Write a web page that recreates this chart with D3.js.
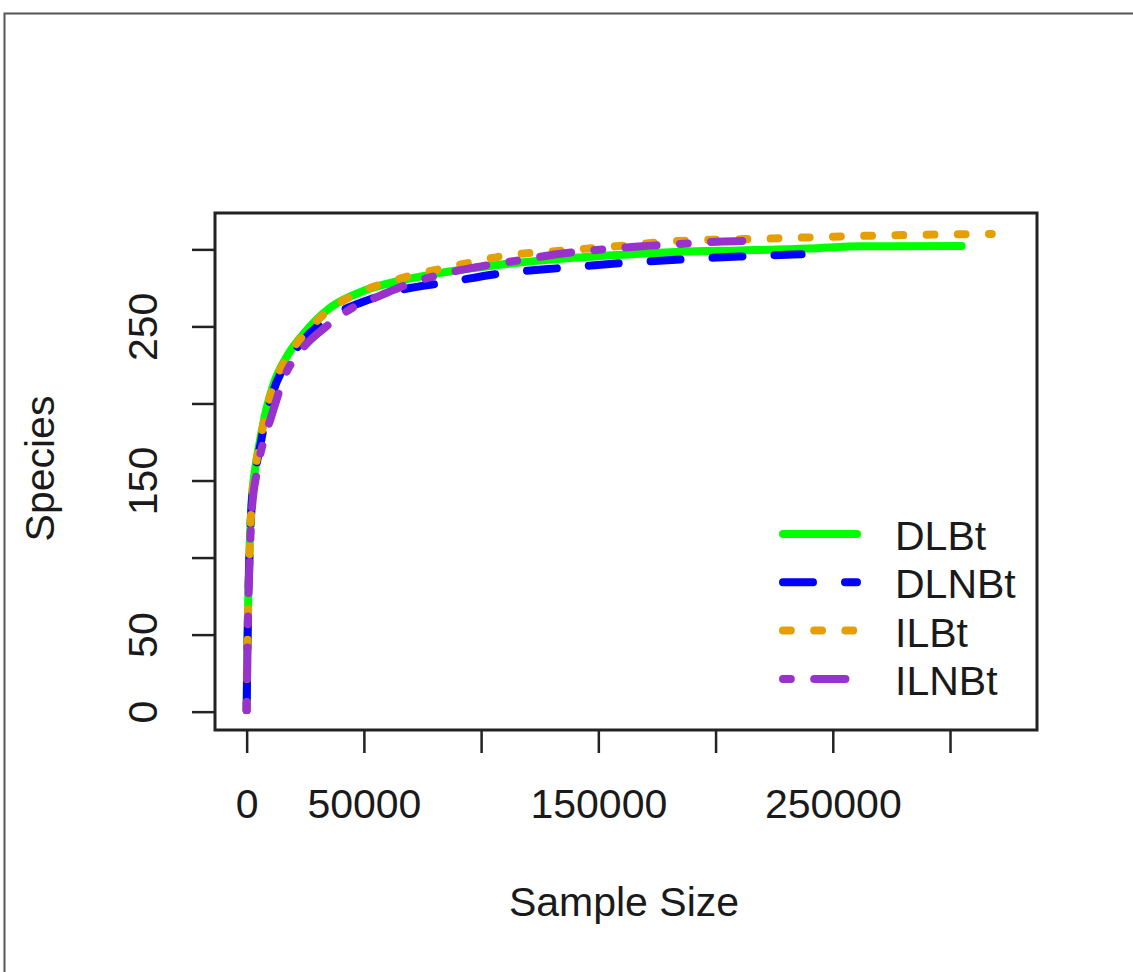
<!DOCTYPE html>
<html>
<head>
<meta charset="utf-8">
<script src="https://cdn.jsdelivr.net/npm/d3@7"></script>
<style>
  html, body { margin: 0; padding: 0; background: #fff; overflow: hidden; }
  text { font-family: "Liberation Sans", Arial, sans-serif; fill: #1a1a1a; }
</style>
</head>
<body>
<div id="chart"></div>
<script>
// rarefaction curves, values
var dlbtSize    = [0, 300, 700, 1400, 2100, 3500, 5700, 8500, 11350, 17750, 24150, 35500, 49700, 65000, 80000, 108000, 135000, 160000, 185000, 210000, 240000, 262000, 305000];
var dlbtSpecies = [1, 40, 75, 113, 136, 156, 176, 197, 212, 232, 245, 262, 273, 279.5, 284, 290, 294, 296.5, 298.5, 299.3, 300.5, 302, 302.2];

var dlnbtSize    = [0, 300, 700, 1400, 2100, 3500, 5700, 8500, 11350, 17750, 24150, 35500, 49700, 65400, 87000, 109000, 135000, 159000, 186000, 210000, 236700];
var dlnbtSpecies = [1, 38, 72, 110, 133, 153, 172, 193, 208, 228, 241, 256, 266, 273.5, 279, 284.5, 288, 291, 293.5, 295.3, 296.8];

var ilbtSize    = [0, 300, 700, 1400, 2100, 3500, 5700, 8500, 11350, 17750, 24150, 35500, 49700, 65400, 88000, 110900, 135000, 159000, 184800, 223000, 261600, 290000, 317800];
var ilbtSpecies = [1, 38, 72, 110, 134, 155, 175, 196, 211, 231, 244, 261, 273, 281, 289, 296, 299.2, 302.2, 305.5, 307, 308.7, 309.5, 310];

var ilnbtSize    = [0, 300, 700, 1400, 2100, 4300, 7100, 10000, 16300, 24000, 34000, 45000, 57000, 70000, 85000, 100000, 116600, 133000, 149300, 167000, 184800, 201000, 214600];
var ilnbtSpecies = [1, 36, 70, 105, 128, 155, 175, 189, 218, 236, 250, 262, 270, 278, 284.5, 289, 293, 297, 299.6, 301.8, 303.5, 305, 305.5];

var seriesNames = ["DLBt", "DLNBt", "ILBt", "ILNBt"];
var seriesColors = ["#00ff00", "#0000ff", "#e69f00", "#9932cc"];
var seriesDash = [null, "30,32", "7.8,23.4", "7.8,23.4,31.2,23.4"];

var xTicks = [0, 50000, 100000, 150000, 200000, 250000, 300000];
var xTickLabels = ["0", "50000", "", "150000", "", "250000", ""];
var yTicks = [0, 50, 100, 150, 200, 250, 300];
var yTickLabels = ["0", "50", "", "150", "", "250", ""];

var width = 1133, height = 972;
var box = { left: 215, right: 1037, top: 213, bottom: 730 };
var fontSize = 41, lineW = 8;

var series = [
  { size: dlbtSize, species: dlbtSpecies },
  { size: dlnbtSize, species: dlnbtSpecies },
  { size: ilbtSize, species: ilbtSpecies },
  { size: ilnbtSize, species: ilnbtSpecies }
].map(function (s, i) {
  return {
    name: seriesNames[i],
    color: seriesColors[i],
    dash: seriesDash[i],
    values: s.size.map(function (v, j) { return { x: v, y: s.species[j] }; })
  };
});

var x = d3.scaleLinear().domain([-13500, 337100]).range([box.left, box.right]);
var y = d3.scaleLinear().domain([-11.9, 323.6]).range([box.bottom, box.top]);

var svg = d3.select("#chart").append("svg")
  .attr("width", width)
  .attr("height", height);

svg.append("rect").attr("width", width).attr("height", height).attr("fill", "#fff");

// outer frame (only top and left edges show in the crop)
svg.append("rect")
  .attr("x", 4.5).attr("y", 13.5)
  .attr("width", width + 50).attr("height", height + 50)
  .attr("fill", "none").attr("stroke", "#555").attr("stroke-width", 2);

var line = d3.line()
  .curve(d3.curveMonotoneX)
  .x(function (d) { return x(d.x); })
  .y(function (d) { return y(d.y); });

svg.append("g").attr("class", "lines")
  .selectAll("path").data(series).enter()
  .append("path")
  .attr("d", function (d) { return line(d.values); })
  .attr("fill", "none")
  .attr("stroke", function (d) { return d.color; })
  .attr("stroke-width", lineW)
  .attr("stroke-linecap", "round")
  .attr("stroke-linejoin", "round")
  .attr("stroke-dasharray", function (d) { return d.dash; });

// plot box
svg.append("rect")
  .attr("x", box.left).attr("y", box.top)
  .attr("width", box.right - box.left).attr("height", box.bottom - box.top)
  .attr("fill", "none").attr("stroke", "#222").attr("stroke-width", 3);

// x axis
var xAxis = svg.append("g")
  .attr("transform", "translate(0," + box.bottom + ")")
  .call(d3.axisBottom(x).tickValues(xTicks).tickSize(23)
    .tickFormat(function (d, i) { return xTickLabels[i]; }));
xAxis.select(".domain").remove();
xAxis.selectAll(".tick line").attr("stroke", "#222").attr("stroke-width", 2.5);
xAxis.selectAll(".tick text")
  .attr("y", 88).attr("dy", null)
  .style("font-size", fontSize + "px")
  .attr("fill", "#1a1a1a");

// y axis
var yAxis = svg.append("g")
  .attr("transform", "translate(" + box.left + ",0)")
  .call(d3.axisLeft(y).tickValues(yTicks).tickSize(23)
    .tickFormat(function (d, i) { return yTickLabels[i]; }));
yAxis.select(".domain").remove();
yAxis.selectAll(".tick line").attr("stroke", "#222").attr("stroke-width", 2.5);
yAxis.selectAll(".tick text")
  .attr("x", null).attr("dy", null)
  .attr("transform", "translate(-58,0) rotate(-90)")
  .attr("text-anchor", "middle")
  .style("font-size", fontSize + "px")
  .attr("fill", "#1a1a1a");

// axis titles
svg.append("text")
  .attr("x", (box.left + box.right) / 2 - 2)
  .attr("y", 916)
  .attr("text-anchor", "middle")
  .style("font-size", fontSize + "px")
  .text("Sample Size");

svg.append("text")
  .attr("transform", "translate(54," + ((box.top + box.bottom) / 2 - 3) + ") rotate(-90)")
  .attr("text-anchor", "middle")
  .style("font-size", fontSize + "px")
  .text("Species");

// legend, no box
var legend = svg.append("g").attr("transform", "translate(783,534)");
var item = legend.selectAll("g").data(series).enter()
  .append("g")
  .attr("transform", function (d, i) { return "translate(0," + (i * 48.3) + ")"; });
item.append("line")
  .attr("x1", 0).attr("x2", 74)
  .attr("stroke", function (d) { return d.color; })
  .attr("stroke-width", lineW)
  .attr("stroke-linecap", "round")
  .attr("stroke-dasharray", function (d) { return d.dash; });
item.append("text")
  .attr("x", 112).attr("y", 16)
  .style("font-size", fontSize + "px")
  .text(function (d) { return d.name; });
</script>
</body>
</html>
